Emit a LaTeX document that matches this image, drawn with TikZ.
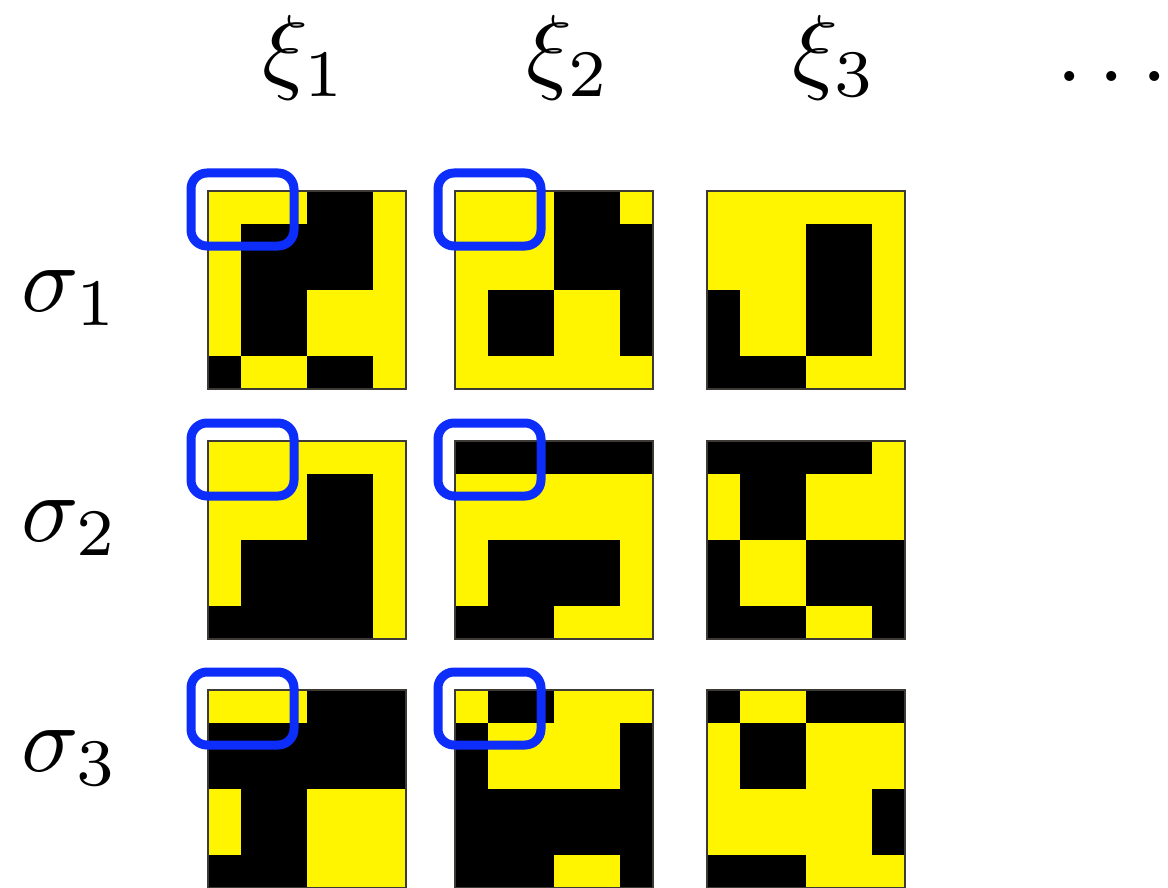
\documentclass[tikz,border=0pt]{standalone}
\definecolor{tileyellow}{RGB}{255,245,0}
\definecolor{hlblue}{RGB}{12,45,250}
\tikzset{
  tileborder/.style={draw={black!80!yellow!60!black}, line width=1pt},
  hlbox/.style={draw=hlblue, line width=4.5pt, rounded corners=8pt},
  lbl/.style={inner sep=0pt, scale=4.75, anchor=base}
}
\newcommand\drawtile[3]{%
  \fill[tileyellow] (#1,#2) rectangle ++(198,198);
  \foreach \rowv [count=\i from 0] in {#3} {
    \foreach \v [count=\j from 0] in \rowv {
      \ifnum\v=1 \fill[black] ({#1+33*\j-0.3},{#2+33*\i-0.3}) rectangle ++(33.6,33.6);\fi
    }
  }
  \draw[tileborder] (#1,#2) rectangle ++(198,198);
}
\newcommand\hl[2]{\draw[hlbox] ({#1-17},{#2-18}) rectangle ({#1+86},{#2+55});}
\begin{document}
\begin{tikzpicture}[x=0.5pt,y=-0.5pt]
\useasboundingbox (0,0) rectangle (1168,888);
\fill[white] (0,0) rectangle (1168,888);
% column labels
\node[lbl] (xi1) at (305,82) {$\xi_1$};
\node[lbl] (xi2) at (569,82) {$\xi_2$};
\node[lbl] (xi3) at (835,82) {$\xi_3$};
\node[lbl, anchor=base west] (dots) at (1055,82) {$\ldots$};
% row labels
\node[lbl, anchor=base west] (s1) at (20,311) {$\sigma_1$};
\node[lbl, anchor=base west] (s2) at (20,541) {$\sigma_2$};
\node[lbl, anchor=base west] (s3) at (20,771) {$\sigma_3$};
% tiles row 1
\drawtile{208}{191}{{0,0,0,1,1,0},{0,1,1,1,1,0},{0,1,1,1,1,0},{0,1,1,0,0,0},{0,1,1,0,0,0},{1,0,0,1,1,0}}
\drawtile{455}{191}{{0,0,0,1,1,0},{0,0,0,1,1,1},{0,0,0,1,1,1},{0,1,1,0,0,1},{0,1,1,0,0,1},{0,0,0,0,0,0}}
\drawtile{707}{191}{{0,0,0,0,0,0},{0,0,0,1,1,0},{0,0,0,1,1,0},{1,0,0,1,1,0},{1,0,0,1,1,0},{1,1,1,0,0,0}}
% tiles row 2
\drawtile{208}{441}{{0,0,0,0,0,0},{0,0,0,1,1,0},{0,0,0,1,1,0},{0,1,1,1,1,0},{0,1,1,1,1,0},{1,1,1,1,1,0}}
\drawtile{455}{441}{{1,1,1,1,1,1},{0,0,0,0,0,0},{0,0,0,0,0,0},{0,1,1,1,1,0},{0,1,1,1,1,0},{1,1,1,0,0,0}}
\drawtile{707}{441}{{1,1,1,1,1,0},{0,1,1,0,0,0},{0,1,1,0,0,0},{1,0,0,1,1,1},{1,0,0,1,1,1},{1,1,1,0,0,1}}
% tiles row 3
\drawtile{208}{690}{{0,0,0,1,1,1},{1,1,1,1,1,1},{1,1,1,1,1,1},{0,1,1,0,0,0},{0,1,1,0,0,0},{1,1,1,0,0,0}}
\drawtile{455}{690}{{0,1,1,0,0,0},{1,0,0,0,0,1},{1,0,0,0,0,1},{1,1,1,1,1,1},{1,1,1,1,1,1},{1,1,1,0,0,1}}
\drawtile{707}{690}{{1,0,0,1,1,1},{0,1,1,0,0,0},{0,1,1,0,0,0},{0,0,0,0,0,1},{0,0,0,0,0,1},{1,1,1,0,0,0}}
% highlight boxes
\hl{208}{191}
\hl{455}{191}
\hl{208}{441}
\hl{455}{441}
\hl{208}{690}
\hl{455}{690}
\end{tikzpicture}
\end{document}
